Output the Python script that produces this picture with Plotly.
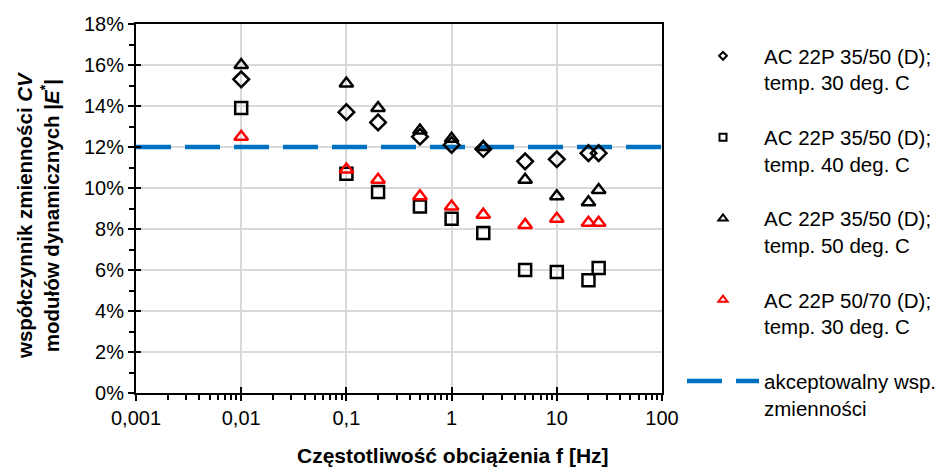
import plotly.graph_objects as go

# ---- data ----
freq = [0.01, 0.1, 0.2, 0.5, 1, 2, 5, 10, 20, 25]
cv_3550_30 = [15.3, 13.7, 13.2, 12.5, 12.1, 11.9, 11.3, 11.4, 11.7, 11.7]
cv_3550_40 = [13.9, 10.7, 9.8, 9.1, 8.5, 7.8, 6.0, 5.9, 5.5, 6.1]
cv_3550_50 = [16.0, 15.1, 13.9, 12.8, 12.4, 12.0, 10.4, 9.6, 9.3, 9.9]
cv_5070_30 = [12.5, 10.9, 10.4, 9.6, 9.1, 8.7, 8.2, 8.5, 8.3, 8.3]
limit_x = [0.001, 100]
limit_y = [12, 12]

names = [
    "AC 22P 35/50 (D);<br>temp. 30 deg. C",
    "AC 22P 35/50 (D);<br>temp. 40 deg. C",
    "AC 22P 35/50 (D);<br>temp. 50 deg. C",
    "AC 22P 50/70 (D);<br>temp. 30 deg. C",
]
limit_name = "akceptowalny wsp.<br>zmienności"

x_tickvals = [0.001, 0.01, 0.1, 1, 10, 100]
x_ticktext = ["0,001", "0,01", "0,1", "1", "10", "100"]
y_tickvals = [0, 2, 4, 6, 8, 10, 12, 14, 16, 18]
y_ticktext = ["0%", "2%", "4%", "6%", "8%", "10%", "12%", "14%", "16%", "18%"]

FONT = "Liberation Sans, Arial, sans-serif"
W, H = 944, 468
L, R, T, B = 136, 662, 24, 393

series = [
    (cv_3550_30, "diamond-open", "black", 12, 6),
    (cv_3550_40, "square-open", "black", 12, 7),
    (cv_3550_50, "triangle-up-open", "black", 12, 8),
    (cv_5070_30, "triangle-up-open", "red", 12, 8),
]

fig = go.Figure()

fig.add_trace(go.Scatter(
    x=limit_x, y=limit_y, mode="lines", name=limit_name,
    line=dict(color="#0070C0", width=4.5, dash="35px,14px"),
    legendgroup="g5", legendrank=5, cliponaxis=False,
))

for i, (vals, sym, col, sz, lsz) in enumerate(series):
    fig.add_trace(go.Scatter(
        x=freq, y=vals, mode="markers", showlegend=False,
        marker=dict(symbol=sym, size=sz, color=col, line=dict(color=col, width=2.5)),
    ))
    # legend entry with smaller marker
    fig.add_trace(go.Scatter(
        x=[None], y=[None], mode="markers", name=names[i],
        marker=dict(symbol=sym, size=lsz, color=col, line=dict(color=col, width=2)),
        legendgroup="g%d" % (i + 1), legendrank=i + 1,
    ))

# overlay axes to get ticks crossing the axis line
fig.add_trace(go.Scatter(x=[None], y=[None], xaxis="x2", yaxis="y2", showlegend=False))

px2x = lambda p: (p - L) / (R - L)
px2y = lambda p: (B - p) / (B - T)

axis_common = dict(showline=True, linecolor="black", linewidth=2, mirror=True,
                   tickcolor="black", tickwidth=2, ticklen=6, ticks="outside",
                   gridcolor="#D9D9D9", gridwidth=1.5, zeroline=False,
                   tickfont=dict(family=FONT, size=20, color="black"))

fig.update_layout(
    width=W, height=H,
    margin=dict(l=L, r=W - R, t=T, b=H - B, pad=0, autoexpand=False),
    paper_bgcolor="white", plot_bgcolor="white",
    font=dict(family=FONT, size=20, color="black"),
    xaxis=dict(type="log", range=[-3, 2], tickvals=x_tickvals, ticktext=x_ticktext,
               minor=dict(ticks="outside", ticklen=5, tickwidth=1.5, tickcolor="black",
                          dtick="D1", showgrid=False),
               **axis_common),
    yaxis=dict(range=[0, 18], tickvals=y_tickvals, ticktext=y_ticktext,
               minor=dict(ticks="outside", ticklen=5, tickwidth=1.5, tickcolor="black",
                          dtick=1, showgrid=False),
               **axis_common),
    xaxis2=dict(type="log", range=[-3, 2], overlaying="x", anchor="y2", tickvals=x_tickvals,
                ticks="inside", ticklen=6, tickwidth=2, tickcolor="black",
                showticklabels=False, showgrid=False, showline=False, zeroline=False),
    yaxis2=dict(range=[0, 18], overlaying="y", anchor="x2", tickvals=y_tickvals,
                ticks="inside", ticklen=5, tickwidth=2, tickcolor="black",
                showticklabels=False, showgrid=False, showline=False, zeroline=False),
    legend=dict(x=px2x(682), y=px2y(36), xanchor="left", yanchor="top",
                font=dict(family=FONT, size=20.5, color="black"),
                tracegroupgap=25, valign="top", bgcolor="rgba(0,0,0,0)",
                itemwidth=72, maxheight=460),
    showlegend=True,
)

fig.add_annotation(
    text="<b>Częstotliwość obciążenia f [Hz]</b>",
    xref="paper", yref="paper", x=px2x(453), y=px2y(455),
    xanchor="center", yanchor="middle", showarrow=False,
    font=dict(family=FONT, size=21, color="black"),
)
fig.add_annotation(
    text="<b>współczynnik zmienności <i>CV</i><br>modułów dynamicznych |<i>E</i><sup>*</sup>|</b>",
    xref="paper", yref="paper", x=px2x(38), y=px2y(215),
    xanchor="center", yanchor="middle", showarrow=False, textangle=-90,
    font=dict(family=FONT, size=20.5, color="black"),
)

fig.write_html("out.html", config={"displayModeBar": False},
               post_script="document.body.style.margin='0';document.body.style.padding='0';")
